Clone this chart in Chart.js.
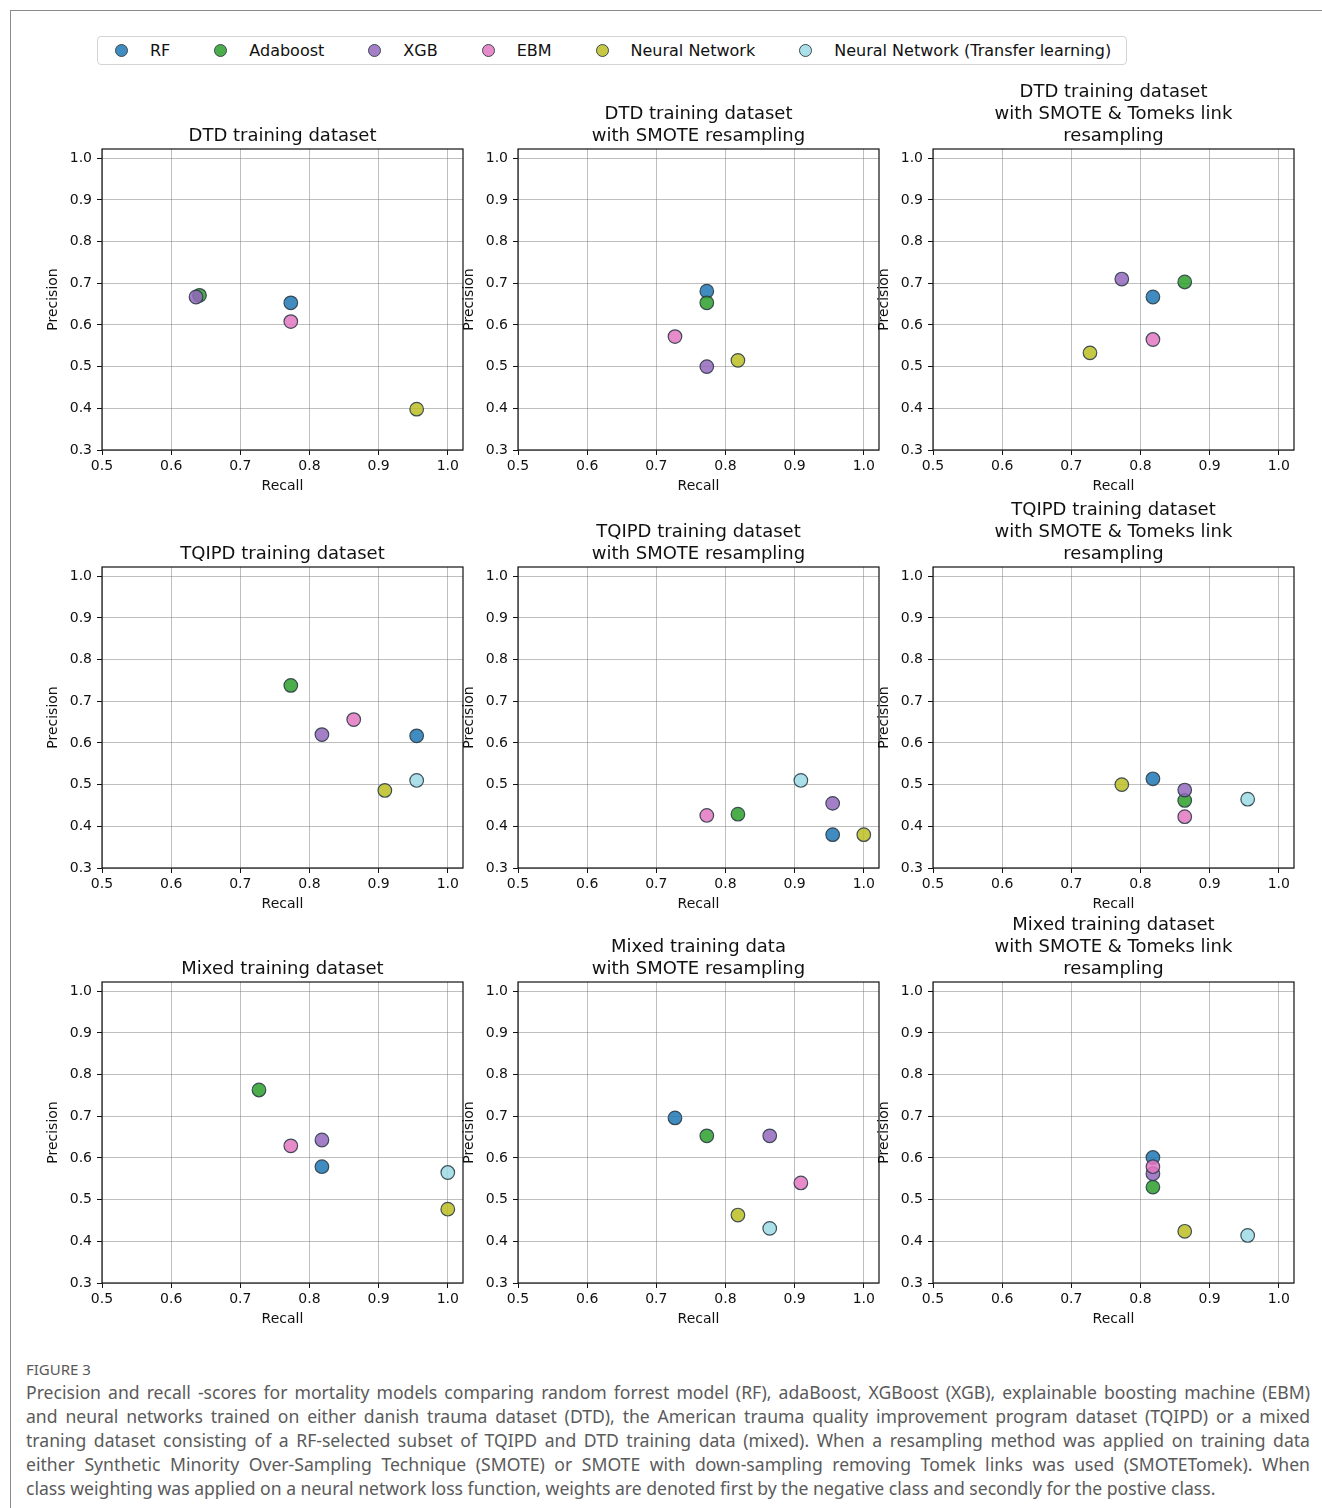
<!DOCTYPE html>
<html lang="en">
<head>
<meta charset="UTF-8">
<title>Figure 3 - Precision and recall</title>
<script src="https://cdn.jsdelivr.net/npm/chart.js@4.4.0/dist/chart.umd.min.js"></script>
<style>
    * { margin: 0; padding: 0; box-sizing: border-box; }
    body {
        width: 1322px;
        height: 1508px;
        background: #fff;
        position: relative;
        overflow: hidden;
        font-family: 'DejaVu Sans', sans-serif;
    }
    #frame {
        position: absolute;
        left: 10px; top: 10px; right: 0; bottom: 0;
        border-top: 1px solid #8a8a8a;
        border-left: 1px solid #8a8a8a;
    }
    #legend {
        position: absolute;
        left: 97px; top: 36px;
        width: 1030px; height: 29px;
        border: 1px solid #d4d4d4;
        border-radius: 4px;
        display: flex;
        align-items: center;
        padding-left: 17px;
        font-size: 16px;
        color: #111;
    }
    .item { display: flex; align-items: center; margin-right: 44px; white-space: nowrap; }
    .dot { width: 13px; height: 13px; border-radius: 50%; border: 1px solid #3b4a52; margin-right: 22px; }
    .panel { position: absolute; }
    #caption {
        position: absolute;
        left: 26px; top: 1358px;
        width: 1284px;
        color: #5a5a5a;
        font-family: 'Noto Sans', sans-serif;
    }
    #caption .fig { font-size: 15px; line-height: 22px; }
    #caption .line { font-size: 17.6px; line-height: 24px; text-align: justify; text-align-last: justify; }
    #caption .line.last { text-align-last: left; }
</style>
</head>
<body>
<div id="frame"></div>
<div id="legend"></div>
<div id="panels"></div>
<div id="caption">
    <div class="fig">FIGURE 3</div>
    <div class="line">Precision and recall -scores for mortality models comparing random forrest model (RF), adaBoost, XGBoost (XGB), explainable boosting machine (EBM)</div>
    <div class="line">and neural networks trained on either danish trauma dataset (DTD), the American trauma quality improvement program dataset (TQIPD) or a mixed</div>
    <div class="line">traning dataset consisting of a RF-selected subset of TQIPD and DTD training data (mixed). When a resampling method was applied on training data</div>
    <div class="line">either Synthetic Minority Over-Sampling Technique (SMOTE) or SMOTE with down-sampling removing Tomek links was used (SMOTETomek). When</div>
    <div class="line last">class weighting was applied on a neural network loss function, weights are denoted first by the negative class and secondly for the postive class.</div>
</div>

<script>
    // models, same order in every panel (null = not shown)
    const models = ['RF', 'Adaboost', 'XGB', 'EBM', 'Neural Network', 'Neural Network (Transfer learning)'];
    const colors = ['rgba(31,119,180,0.85)', 'rgba(44,160,44,0.85)', 'rgba(148,103,189,0.85)',
                    'rgba(227,119,194,0.85)', 'rgba(188,189,34,0.85)', 'rgba(158,218,229,0.85)'];

    const xTicks = [0.5, 0.6, 0.7, 0.8, 0.9, 1.0];
    const yTicks = [0.3, 0.4, 0.5, 0.6, 0.7, 0.8, 0.9, 1.0];

    // DTD
    const dtdRecall = [0.773, 0.641, 0.636, 0.773, 0.955, null];
    const dtdPrecision = [0.653, 0.671, 0.667, 0.608, 0.398, null];
    const dtdSmoteRecall = [0.773, 0.773, 0.773, 0.727, 0.818, null];
    const dtdSmotePrecision = [0.681, 0.653, 0.500, 0.572, 0.515, null];
    const dtdTomekRecall = [0.818, 0.864, 0.773, 0.818, 0.727, null];
    const dtdTomekPrecision = [0.667, 0.703, 0.710, 0.565, 0.533, null];
    // TQIPD
    const tqipdRecall = [0.955, 0.773, 0.818, 0.864, 0.909, 0.955];
    const tqipdPrecision = [0.617, 0.738, 0.620, 0.656, 0.486, 0.510];
    const tqipdSmoteRecall = [0.955, 0.818, 0.955, 0.773, 1.0, 0.909];
    const tqipdSmotePrecision = [0.380, 0.429, 0.455, 0.426, 0.380, 0.510];
    const tqipdTomekRecall = [0.818, 0.864, 0.864, 0.864, 0.773, 0.955];
    const tqipdTomekPrecision = [0.514, 0.462, 0.487, 0.423, 0.500, 0.465];
    // Mixed
    const mixedRecall = [0.818, 0.727, 0.818, 0.773, 1.0, 1.0];
    const mixedPrecision = [0.579, 0.763, 0.643, 0.629, 0.477, 0.565];
    const mixedSmoteRecall = [0.727, 0.773, 0.864, 0.909, 0.818, 0.864];
    const mixedSmotePrecision = [0.696, 0.653, 0.653, 0.540, 0.463, 0.431];
    const mixedTomekRecall = [0.818, 0.818, 0.818, 0.818, 0.864, 0.955];
    const mixedTomekPrecision = [0.601, 0.530, 0.562, 0.579, 0.424, 0.414];

    const panels = [
        { title: ['DTD training dataset'], recall: dtdRecall, precision: dtdPrecision },
        { title: ['DTD training dataset', 'with SMOTE resampling'], recall: dtdSmoteRecall, precision: dtdSmotePrecision },
        { title: ['DTD training dataset', 'with SMOTE & Tomeks link', 'resampling'], recall: dtdTomekRecall, precision: dtdTomekPrecision },
        { title: ['TQIPD training dataset'], recall: tqipdRecall, precision: tqipdPrecision },
        { title: ['TQIPD training dataset', 'with SMOTE resampling'], recall: tqipdSmoteRecall, precision: tqipdSmotePrecision },
        { title: ['TQIPD training dataset', 'with SMOTE & Tomeks link', 'resampling'], recall: tqipdTomekRecall, precision: tqipdTomekPrecision },
        { title: ['Mixed training dataset'], recall: mixedRecall, precision: mixedPrecision },
        { title: ['Mixed training data', 'with SMOTE resampling'], recall: mixedSmoteRecall, precision: mixedSmotePrecision },
        { title: ['Mixed training dataset', 'with SMOTE & Tomeks link', 'resampling'], recall: mixedTomekRecall, precision: mixedTomekPrecision }
    ];

    // legend
    const legend = document.getElementById('legend');
    models.forEach((m, i) => {
        const item = document.createElement('div');
        item.className = 'item';
        item.innerHTML = '<span class="dot" style="background:' + colors[i] + '"></span><span>' + m + '</span>';
        legend.appendChild(item);
    });

    // layout of the grid
    const plotLefts = [102, 518, 933];
    const plotTops = [149, 567, 982];
    const plotW = 361, plotH = 301;
    const axisW = 60, axisH = 45, lineH = 22, titlePad = 2;

    // black box around each axes
    const spines = {
        id: 'spines',
        afterDraw(chart) {
            const a = chart.chartArea, c = chart.ctx;
            c.save();
            c.strokeStyle = '#111';
            c.lineWidth = 1.2;
            c.strokeRect(a.left, a.top, a.right - a.left, a.bottom - a.top);
            c.restore();
        }
    };

    const tickFont = { family: 'DejaVu Sans', size: 14 };
    const gridCfg = { color: 'rgba(128,128,128,0.5)', lineWidth: 1, tickLength: 5, tickColor: '#111' };

    panels.forEach((p, k) => {
        const row = Math.floor(k / 3), col = k % 3;
        const titleH = p.title.length * lineH + titlePad;
        const w = axisW + plotW + axisW;
        const h = titleH + plotH + axisH;

        const div = document.createElement('div');
        div.className = 'panel';
        div.style.left = (plotLefts[col] - axisW) + 'px';
        div.style.top = (plotTops[row] - titleH) + 'px';
        const canvas = document.createElement('canvas');
        canvas.width = w;
        canvas.height = h;
        div.appendChild(canvas);
        document.getElementById('panels').appendChild(div);

        const datasets = models.map((m, i) => ({
            label: m,
            data: p.recall[i] == null ? [] : [{ x: p.recall[i], y: p.precision[i] }],
            backgroundColor: colors[i],
            borderColor: 'rgba(45,62,72,0.9)',
            borderWidth: 1.2,
            pointRadius: 6.8,
            order: models.length - i
        }));

        new Chart(canvas.getContext('2d'), {
            type: 'scatter',
            data: { datasets },
            options: {
                responsive: false,
                animation: false,
                layout: { padding: 0 },
                plugins: {
                    legend: { display: false },
                    tooltip: { enabled: false },
                    title: {
                        display: true,
                        text: p.title,
                        color: '#111',
                        font: { family: 'DejaVu Sans', size: 18, weight: 'normal', lineHeight: lineH + 'px' },
                        padding: { top: 0, bottom: titlePad }
                    }
                },
                scales: {
                    x: {
                        type: 'linear',
                        min: 0.5, max: 1.022,
                        z: 1,
                        afterBuildTicks: s => { s.ticks = xTicks.map(v => ({ value: v })); },
                        afterFit: s => { s.height = axisH; },
                        ticks: { color: '#111', font: tickFont, padding: 3, maxRotation: 0, autoSkip: false,
                                 callback: v => v.toFixed(1) },
                        grid: gridCfg,
                        border: { display: false },
                        title: { display: true, text: 'Recall', color: '#111', font: tickFont, padding: { top: 0, bottom: 0 } }
                    },
                    y: {
                        type: 'linear',
                        min: 0.3, max: 1.022,
                        z: 1,
                        afterBuildTicks: s => { s.ticks = yTicks.map(v => ({ value: v })); },
                        afterFit: s => { s.width = axisW; },
                        ticks: { color: '#111', font: tickFont, padding: 5, autoSkip: false,
                                 callback: v => v.toFixed(1) },
                        grid: gridCfg,
                        border: { display: false },
                        title: { display: true, text: 'Precision', color: '#111', font: tickFont, padding: { top: 3, bottom: 0 } }
                    },
                    // empty spacer on the right so the title centres over the axes box
                    spacer: {
                        type: 'linear',
                        position: 'right',
                        afterFit: s => { s.width = axisW; },
                        ticks: { display: false },
                        grid: { display: false },
                        border: { display: false }
                    }
                }
            },
            plugins: [spines]
        });
    });
</script>
</body>
</html>
